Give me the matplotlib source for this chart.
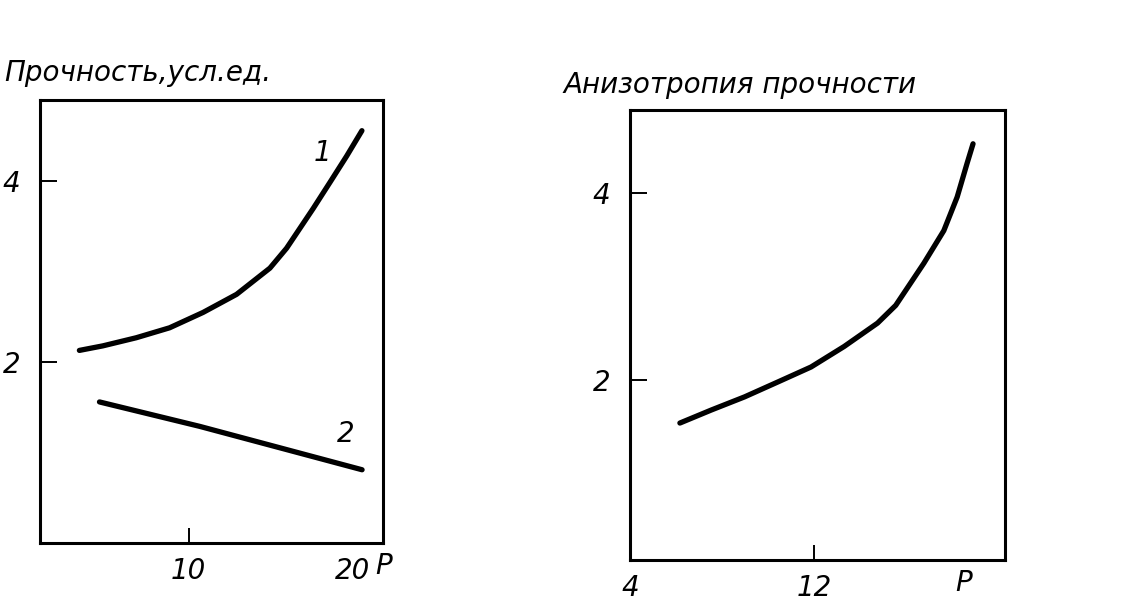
import matplotlib
matplotlib.use("Agg")
import matplotlib.pyplot as plt

# Left panel data
p1 = [3.31, 4.74, 6.79, 8.83, 10.88, 12.93, 14.97, 15.99, 17.62, 18.65, 19.67, 20.60]
s1 = [2.13, 2.18, 2.27, 2.38, 2.55, 2.75, 3.04, 3.26, 3.70, 3.99, 4.28, 4.56]
p2 = [4.54, 10.67, 20.61]
s2 = [1.56, 1.29, 0.81]

# Right panel data
pr = [6.17, 7.54, 8.98, 10.43, 11.87, 13.31, 14.76, 15.55, 16.77, 17.64, 18.22, 18.65, 18.91]
an = [1.54, 1.68, 1.82, 1.98, 2.14, 2.36, 2.61, 2.80, 3.25, 3.60, 3.96, 4.32, 4.53]

left_title = "Прочность,усл.ед."
right_title = "Анизотропия прочности"
left_xticks = [10, 20]
left_xticklabels = ["10", "20"]
right_xticks = [4, 12]
right_xticklabels = ["4", "12"]
yticks = [2, 4]
yticklabels = ["2", "4"]

plt.rcParams['font.family'] = ['DejaVu Sans']

fig = plt.figure(figsize=(11.4, 6.02), dpi=100)
fig.patch.set_facecolor('white')

axL = fig.add_axes([0.0351, 0.098, 0.301, 0.736])
axR = fig.add_axes([0.5526, 0.070, 0.329, 0.747])

txt = dict(color='black', style='italic', fontsize=20)

for ax in (axL, axR):
    for sp in ax.spines.values():
        sp.set_linewidth(2.2)
        sp.set_color('black')
    ax.tick_params(axis='both', direction='in', width=1.4, colors='black',
                   labelsize=20)
    ax.tick_params(axis='y', length=12, pad=14)
    ax.tick_params(axis='x', length=11, pad=10)
    ax.set_yticks(yticks)
    ax.set_yticklabels(yticklabels, style='italic')

# Left panel
axL.plot(p1, s1, color='black', lw=3.8, solid_capstyle='round',
         solid_joinstyle='round')
axL.plot(p2, s2, color='black', lw=3.8, solid_capstyle='round',
         solid_joinstyle='round')
axL.set_xlim(0.9, 21.9)
axL.set_ylim(0.0, 4.9)
axL.set_xticks(left_xticks)
axL.set_xticklabels(left_xticklabels, style='italic')
axL.xaxis.get_major_ticks()[1].tick1line.set_visible(False)
axL.text(18.2, 4.31, "1", ha='center', va='center', **txt)
axL.text(19.6, 1.21, "2", ha='center', va='center', **txt)
axL.text(1.0, -0.02, "P", transform=axL.transAxes, ha='center', va='top', **txt)
fig.text(0.004, 0.865, left_title, ha='left', va='baseline', fontsize=20,
         style='italic', color='black')

# Right panel
axR.plot(pr, an, color='black', lw=3.8, solid_capstyle='round',
         solid_joinstyle='round')
axR.set_xlim(4.08, 20.3)
axR.set_ylim(0.075, 4.89)
axR.set_xticks(right_xticks)
axR.set_xticklabels(right_xticklabels, style='italic')
axR.xaxis.get_major_ticks()[0].tick1line.set_visible(False)
axR.text(18.5, -0.02, "P", transform=axR.get_xaxis_transform(), ha='center',
         va='top', **txt)
fig.text(0.494, 0.845, right_title, ha='left', va='baseline', fontsize=20,
         style='italic', color='black')

fig.savefig("out.png", dpi=100, facecolor='white')
